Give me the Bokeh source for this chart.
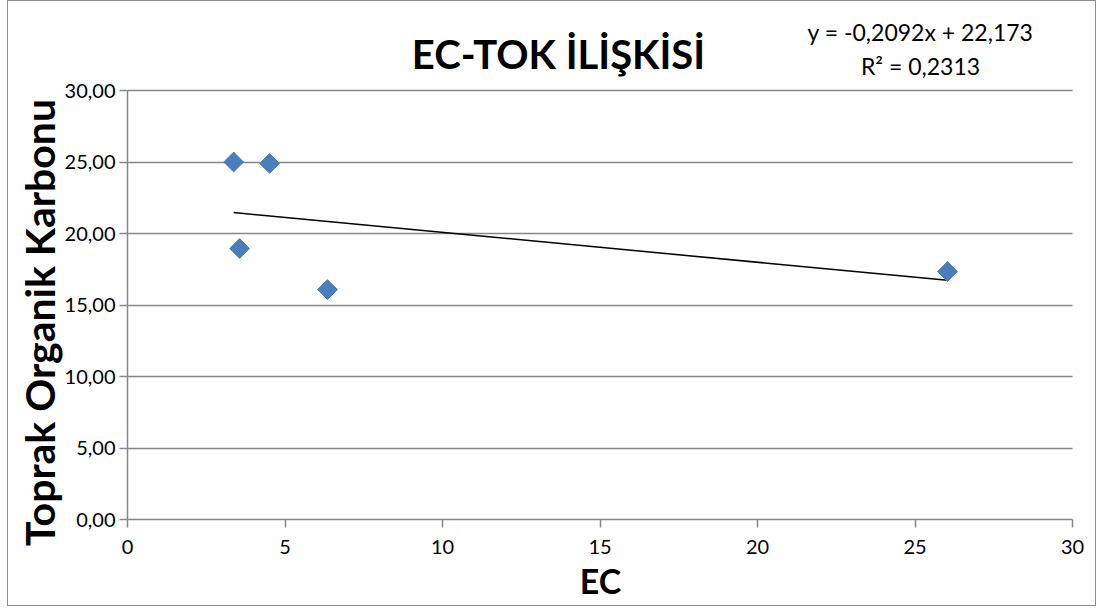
import numpy as np
from bokeh.plotting import figure
from bokeh.models import FixedTicker, Label, ColumnDataSource, LinearAxis, Grid, Range1d
from bokeh.embed import file_html
from bokeh.resources import INLINE

# data
ec = [3.37, 4.51, 3.56, 6.35, 26.03]
tok = [25.00, 24.90, 18.95, 16.08, 17.34]
slope = -0.2092
intercept = 22.173
r2 = 0.2313
x_ticks = [0, 5, 10, 15, 20, 25, 30]
y_ticks = [0, 5, 10, 15, 20, 25, 30]
y_tick_labels = ["0,00", "5,00", "10,00", "15,00", "20,00", "25,00", "30,00"]
title_text = "EC-TOK İLİŞKİSİ"
x_title = "EC"
y_title = "Toprak Organik Karbonu"

FONT = "Lato"
W, H = 1089, 606
# pixel geometry of the plotting area inside the canvas
L, R, T, B = 119, 1064, 89, 518
xmin, xmax = x_ticks[0], x_ticks[-1]
ymin, ymax = y_ticks[0], y_ticks[-1]
xs_per_px = (xmax - xmin) / (R - L)
ys_per_px = (ymax - ymin) / (B - T)

p = figure(width=W, height=H, output_backend="svg", toolbar_location=None,
           x_range=Range1d(xmin - L * xs_per_px, xmax + (W - R) * xs_per_px),
           y_range=Range1d(ymin - (H - B) * ys_per_px, ymax + T * ys_per_px),
           x_axis_location=None, y_axis_location=None,
           min_border=0)
p.styles = {"border": "1px solid #8c8c8c", "margin-left": "7px"}
p.outline_line_color = None
p.background_fill_color = "white"
p.border_fill_color = "white"
p.xgrid.visible = False
p.ygrid.visible = False

xaxis = LinearAxis(fixed_location=ymin, bounds=(xmin, xmax), ticker=FixedTicker(ticks=x_ticks))
yaxis = LinearAxis(fixed_location=xmin, bounds=(ymin, ymax), ticker=FixedTicker(ticks=y_ticks),
                   major_label_overrides={t: l for t, l in zip(y_ticks, y_tick_labels)})
for ax in (xaxis, yaxis):
    ax.axis_line_color = "#878787"
    ax.axis_line_width = 1.5
    ax.major_tick_line_color = "#878787"
    ax.major_tick_line_width = 1.5
    ax.major_tick_out = 8
    ax.major_tick_in = 0
    ax.minor_tick_line_color = None
    ax.major_label_text_font = FONT
    ax.major_label_text_font_size = "20px"
    ax.major_label_text_color = "#000000"
xaxis.major_label_standoff = 12
yaxis.major_label_standoff = 4
p.add_layout(xaxis, "below")
p.add_layout(yaxis, "left")

# horizontal gridlines
if "cross_bounds" in Grid.properties():
    g = Grid(dimension=1, ticker=FixedTicker(ticks=y_ticks[1:]), cross_bounds=(xmin, xmax),
             grid_line_color="#878787", grid_line_width=1.5)
    p.add_layout(g)
else:
    gy = y_ticks[1:]
    p.segment(x0=[xmin] * len(gy), x1=[xmax] * len(gy), y0=gy, y1=gy,
              line_color="#878787", line_width=1.5)

# trend line
xs = np.array([min(ec), max(ec)])
p.line(xs, slope * xs + intercept, line_color="black", line_width=1.5)

# points
src = ColumnDataSource(dict(x=ec, y=tok))
p.scatter("x", "y", source=src, marker="square", angle=np.pi / 4, size=14,
          fill_color="#4A7EBB", line_color="#4A7EBB")

# texts (screen units from canvas bottom-left)
def lab(**kw):
    l = Label(x_units="screen", y_units="screen", text_font=FONT, text_align="center",
              text_baseline="middle", text_color="#000000", **kw)
    p.add_layout(l)

lab(x=550, y=554, text=title_text, text_font_style="bold", text_font_size="40px")
lab(x=912, y=576, text=f"y = {slope:.4f}x + {intercept:.3f}".replace(".", ","), text_font_size="23px")
lab(x=912, y=542, text=f"R² = {r2:.4f}".replace(".", ","), text_font_size="23px")
lab(x=31, y=285, text=y_title, angle=np.pi / 2, text_font_style="bold", text_font_size="41px")
lab(x=592, y=27, text=x_title, text_font_style="bold", text_font_size="34px")

open("out.html", "w").write(file_html(p, INLINE))
